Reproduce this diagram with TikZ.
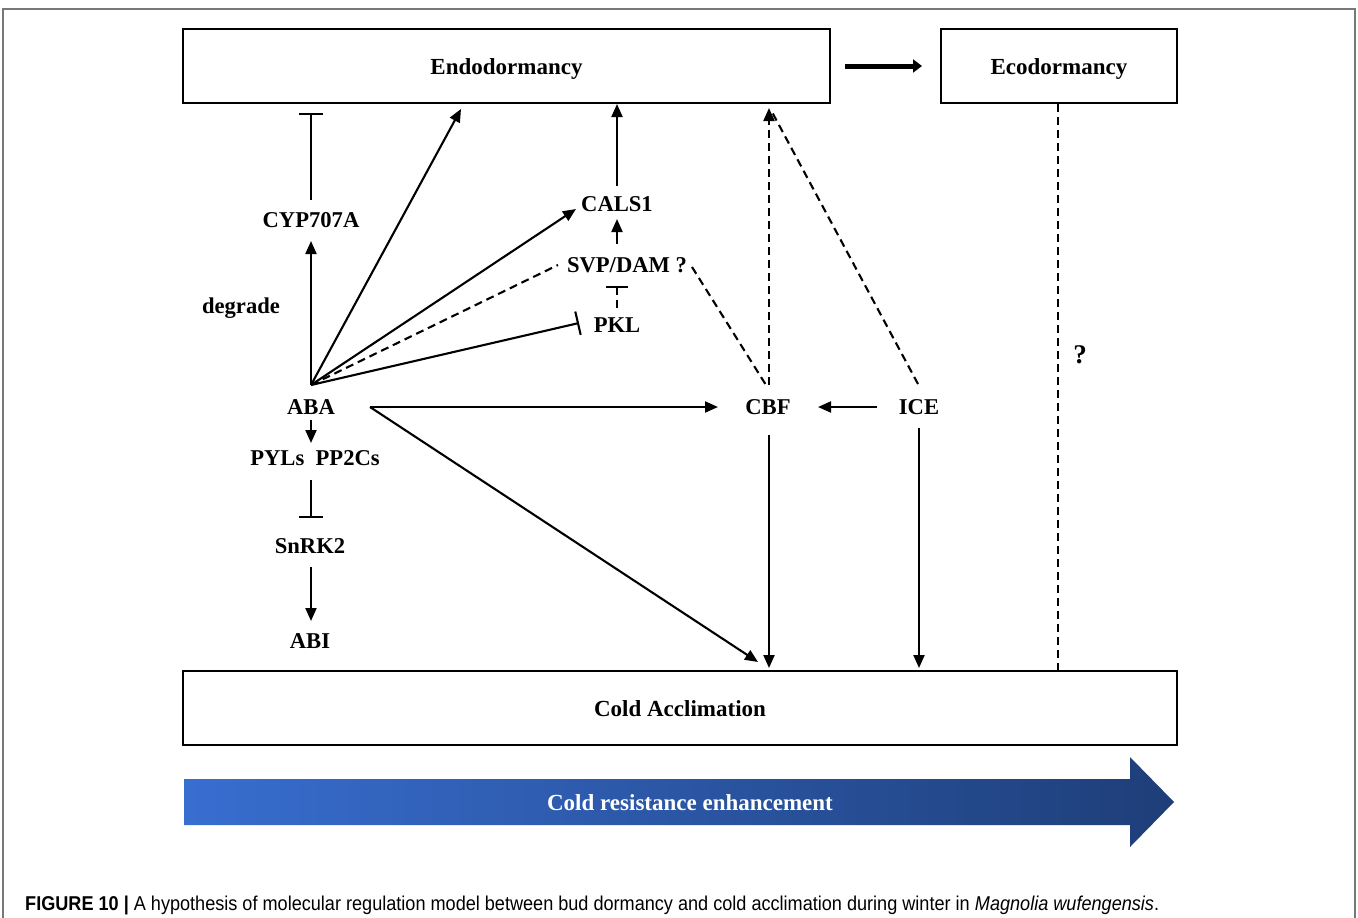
\documentclass[tikz,border=0pt]{standalone}
\usepackage{fontspec}
\setmainfont{Liberation Serif}
\newfontfamily\capfont[FakeStretch=0.905]{Liberation Sans}
\usetikzlibrary{arrows.meta}
\definecolor{frame}{RGB}{120,120,120}
\definecolor{blueL}{RGB}{56,110,208}
\definecolor{blueR}{RGB}{30,62,120}
\newcommand{\boxtext}[1]{\smash{\raisebox{-8.6pt}{#1}}}
\tikzset{
  lbl/.style={font=\bfseries\fontsize{22.6}{25}\selectfont, inner sep=0pt},
  boxnode/.style={draw, line width=2pt, font=\bfseries\fontsize{23}{25}\selectfont},
  arr/.style={line width=2.1pt, -{Triangle[length=13pt,width=11pt]}},
  inh/.style={line width=2.1pt, -{Bar[width=24pt,line width=2.1pt]}},
  dsh/.style={line width=2.1pt, dash pattern=on 8pt off 5pt},
}
\begin{document}
\begin{tikzpicture}[x=1pt,y=-1pt]
\useasboundingbox (0,0) rectangle (1358,918);
% frame
\draw[frame, line width=1.4pt] (3,918) -- (3,9) -- (1355,9) -- (1355,918);
% boxes
\node[boxnode, minimum width=647pt, minimum height=74pt] (endo) at (506.5,66) {\boxtext{Endodormancy}};
\node[boxnode, minimum width=236pt, minimum height=74pt] (eco) at (1059,66) {\boxtext{Ecodormancy}};
\node[boxnode, minimum width=994pt, minimum height=74pt] (ca) at (680,708) {\boxtext{Cold Acclimation}};
\coordinate (thA) at (845,66);
\coordinate (thB) at (922,66);
\draw[line width=5pt, -{Triangle[length=9pt,width=13pt]}] (thA) -- (thB);
% labels
\node[lbl] (cyp) at (311,220) {CYP707A};
\node[lbl] (deg) at (241,308) {degrade};
\node[lbl] (aba) at (311,407) {ABA};
\node[lbl] (pyl) at (315,458) {PYLs\ \ PP2Cs};
\node[lbl] (snrk) at (310,546) {SnRK2};
\node[lbl] (abi) at (310,641) {ABI};
\node[lbl] (cals) at (617,204) {CALS1};
\node[lbl] (svp) at (627,265) {SVP/DAM ?};
\node[lbl] (pkl) at (617,325) {PKL};
\node[lbl] (cbf) at (768,407) {CBF};
\node[lbl] (ice) at (919,407) {ICE};
\node[font=\bfseries\fontsize{27}{29}\selectfont, inner sep=0pt] (q) at (1080,355) {?};
% coordinates
\coordinate (hub) at (311,385);
\coordinate (cypB) at (311,241);
\coordinate (cypT) at (311,200);
\coordinate (endoInh) at (311,113);
\coordinate (endoA) at (461,109);
\coordinate (calsA) at (576,209);
\coordinate (svpL) at (558,265);
\coordinate (pklInh) at (579,323);
\coordinate (abaR) at (370,407);
\coordinate (cbfL) at (718,407);
\coordinate (caA) at (758,662);
\coordinate (abaB) at (311,420);
\coordinate (pylT) at (311,443);
\coordinate (pylB) at (311,480);
\coordinate (snrkT) at (311,518);
\coordinate (snrkB) at (311,567);
\coordinate (abiT) at (311,621);
\coordinate (calsT) at (617,186);
\coordinate (endoB) at (617,104);
\coordinate (svpT) at (617,244);
\coordinate (calsB) at (617,219);
\coordinate (pklT) at (617,308);
\coordinate (svpB) at (617,286);
\coordinate (svpR) at (692,267);
\coordinate (cbfT) at (766,385);
\coordinate (cbfTop) at (769,385);
\coordinate (endoC) at (769,108);
\coordinate (endoD) at (772,112);
\coordinate (iceT) at (918,384);
\coordinate (iceL) at (877,407);
\coordinate (cbfR) at (818,407);
\coordinate (cbfB) at (769,435);
\coordinate (caB1) at (769,668);
\coordinate (iceB) at (919,428);
\coordinate (caB2) at (919,668);
\coordinate (ecoB) at (1058,104);
\coordinate (caT) at (1058,671);
% connectors
\draw[arr] (hub) -- (cypB);
\draw[inh] (cypT) -- (endoInh);
\draw[arr] (hub) -- (endoA);
\draw[arr] (hub) -- (calsA);
\draw[dsh] (hub) -- (svpL);
\draw[inh] (hub) -- (pklInh);
\draw[arr] (abaR) -- (cbfL);
\draw[arr] (abaR) -- (caA);
\draw[arr] (abaB) -- (pylT);
\draw[inh] (pylB) -- (snrkT);
\draw[arr] (snrkB) -- (abiT);
\draw[arr] (calsT) -- (endoB);
\draw[arr] (svpT) -- (calsB);
\draw[dsh, -{Bar[width=22pt,line width=2.1pt]}] (pklT) -- (svpB);
\draw[dsh] (svpR) -- (cbfT);
\draw[dsh, -{Triangle[length=13pt,width=11pt]}] (cbfTop) -- (endoC);
\draw[dsh] (iceT) -- (endoD);
\draw[arr] (iceL) -- (cbfR);
\draw[arr] (cbfB) -- (caB1);
\draw[arr] (iceB) -- (caB2);
\draw[dsh] (ecoB) -- (caT);
% blue arrow
\shade[left color=blueL, right color=blueR] (184,779) -- (1130,779) -- (1130,757) -- (1174,802) -- (1130,847) -- (1130,825) -- (184,825) -- cycle;
\node[font=\bfseries\fontsize{23}{25}\selectfont, text=white, inner sep=0pt] (cre) at (690,803) {Cold resistance enhancement};
% caption
\node[anchor=west, inner sep=0pt, font=\capfont\fontsize{20}{22}\selectfont] (cap) at (25,905) {\textbf{FIGURE 10 |} A hypothesis of molecular regulation model between bud dormancy and cold acclimation during winter in \textit{Magnolia wufengensis}.};
\end{tikzpicture}
\end{document}
